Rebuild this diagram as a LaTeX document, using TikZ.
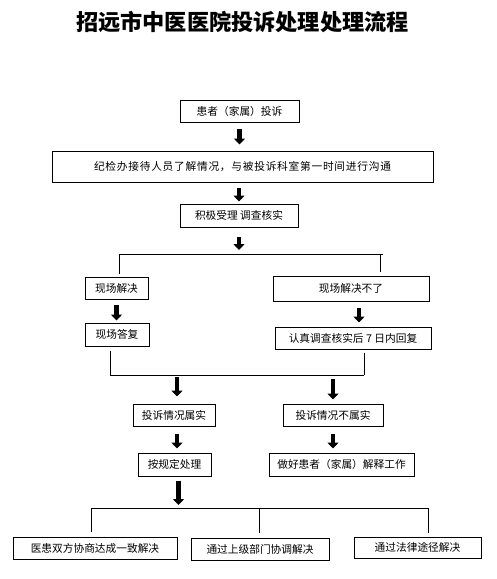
\documentclass[tikz,border=0pt]{standalone}
\usepackage{fontspec}
\newfontfamily\cjk{Noto Sans CJK SC}
\usetikzlibrary{arrows.meta}

\begin{document}
\begin{tikzpicture}[x=1pt,y=-1pt,
  box/.style={draw,line width=1pt,inner sep=0pt,font=\cjk\fontsize{10.7}{12}\selectfont},
  link/.style={line width=1pt},
  bigarrow/.style={line width=4.5pt,-{Triangle[width=11pt,length=6pt]}}]
  \useasboundingbox (0,0) rectangle (497,579);
  \node(title) at (242.5,22) {\cjk\bfseries\fontsize{22.2}{25}\selectfont 招远市中医医院投诉处理处理流程};
  \node(compl)[box,minimum width=119,minimum height=22] at (239.5,111) {患者（家属）投诉};
  \node(talk)[box,minimum width=381,minimum height=31] at (242.5,166.5)
    {\addfontfeature{LetterSpace=7}纪检办接待人员了解情况，与被投诉科室第一时间进行沟通};
  \node(accept)[box,minimum width=118,minimum height=23] at (239,215.5) {积极受理 调查核实};
  \node(ok)[box,minimum width=63,minimum height=22] at (116.5,288) {现场解决};
  \node(nok)[box,minimum width=156,minimum height=25] at (351,288.5) {现场解决不了};
  \node(okrep)[box,minimum width=64,minimum height=23] at (117,334.5) {现场答复};
  \node(nokrep)[box,minimum width=156,minimum height=22] at (353,338) {认真调查核实后 7 日内回复};
  \node(true)[box,minimum width=82,minimum height=22] at (174,415) {投诉情况属实};
  \node(false)[box,minimum width=100,minimum height=22] at (333,415) {投诉情况不属实};
  \node(handle)[box,minimum width=73,minimum height=23] at (174.5,464.5) {按规定处理};
  \node(explain)[box,minimum width=145,minimum height=23] at (341.5,464.5) {做好患者（家属）解释工作};
  \node(agree)[box,minimum width=164,minimum height=22] at (95,548) {医患双方协商达成一致解决};
  \node(upper)[box,minimum width=138,minimum height=22] at (260,549) {通过上级部门协调解决};
  \node(law)[box,minimum width=127,minimum height=21] at (417.5,547.5) {通过法律途径解决};
  \coordinate(forkA) at (119,254);
  \coordinate(forkB) at (380,254);
  \coordinate(joinA) at (110,375);
  \coordinate(joinB) at (364,375);
  \coordinate(forkC) at (91,508);
  \coordinate(forkD) at (428,508);
  \path[bigarrow] (compl.south) edge[shorten <=6,shorten >=6] (compl.south |- talk.north)
                  (accept.north |- talk.south) edge[shorten <=5,shorten >=2] (accept.north)
                  (accept.south) edge[shorten <=9,shorten >=4] (accept.south |- forkA)
                  (ok.south) edge[shorten <=5,shorten >=2] (ok.south |- okrep.north)
                  ([xshift=8]nok.south) edge[shorten <=6,shorten >=4] ([xshift=8]nok.south |- nokrep.north)
                  ([xshift=3]true.north |- joinA) edge[shorten <=2,shorten >=7] ([xshift=3]true.north)
                  (false.north |- joinB) edge[shorten <=4,shorten >=4] (false.north)
                  ([xshift=3]true.south) edge[shorten <=7,shorten >=4] ([xshift=3]true.south |- handle.north)
                  (false.south) edge[shorten <=7,shorten >=4] (false.south |- explain.north)
                  ([xshift=4]handle.south) edge[shorten <=4,shorten >=3] ([xshift=4]handle.south |- forkC);
  \path[link] (forkA) edge ([xshift=3]forkB)
              (forkA) edge[shorten >=3] (forkA |- ok.north)
              (forkB) edge[shorten >=4] (forkB |- nok.north)
              (joinA |- okrep.south) edge[shorten <=4] (joinA)
              (joinB |- nokrep.south) edge[shorten <=3] (joinB)
              (joinA) edge (joinB)
              (forkC) edge (forkD)
              (forkC) edge[shorten >=5] (forkC |- agree.north)
              ([xshift=-1]upper.north |- forkC) edge[shorten >=5] ([xshift=-1]upper.north)
              (forkD) edge[shorten >=4] (forkD |- law.north);
\end{tikzpicture}
\end{document}
